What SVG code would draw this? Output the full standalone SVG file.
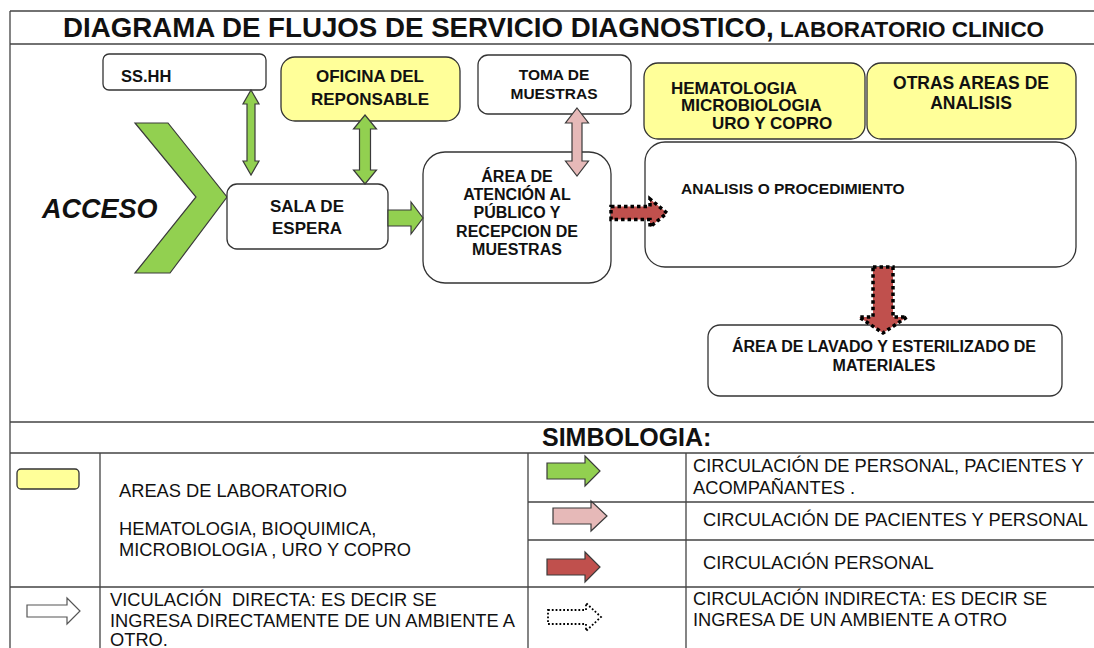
<svg xmlns="http://www.w3.org/2000/svg" width="1094" height="648" viewBox="0 0 1094 648">
<style>
.bg{fill:#fff}
.grid{stroke:#444;stroke-width:1.3;fill:none}
.box{fill:#fff;stroke:#333;stroke-width:1.3}
.ybox{fill:#FFFF99;stroke:#333;stroke-width:1.3}
.t{font-family:"Liberation Sans",Arial,sans-serif;fill:#111}
.b{font-weight:bold}
.g{fill:#92D050;stroke:#3a3a3a;stroke-width:1.2;stroke-linejoin:miter}
.p{fill:#E6B9B8;stroke:#3a3a3a;stroke-width:1.2}
.r{fill:#C0504D;stroke:#3a3a3a;stroke-width:1.2}
.rd{fill:#C0504D;stroke:#000;stroke-width:3.5;stroke-dasharray:3.5 3}
.dot{fill:#fff;stroke:#000;stroke-width:1.8;stroke-dasharray:1.8 2}
.w{fill:#fff;stroke:#555;stroke-width:1.2}
.lg{font-size:18.3px}
</style>
<rect class="bg" x="0" y="0" width="1094" height="648"/>

<g id="frame">
<path class="grid" d="M10,11 V648 M10,11 H1094 M10,44 H1094 M10,422 H1094 M10,453 H1094 M10,587 H1094 M100,453 V648 M528,453 V648 M686,453 V648 M528,502 H1094 M528,540 H1094"/>
</g>

<g id="title">
<text class="t b" x="63" y="37" font-size="27.7">DIAGRAMA DE FLUJOS DE SERVICIO DIAGNOSTICO,<tspan font-size="22.5"> LABORATORIO CLINICO</tspan></text>
</g>

<g id="acceso">
<polygon class="g" points="135,123 168,123 227,197 170,273 135,273 196,197" stroke="none"/>
<text class="t b" x="42" y="218" font-size="27" font-style="italic">ACCESO</text>
</g>

<g id="sshh">
<rect class="box" x="103" y="54" width="163" height="36" rx="6"/>
<text class="t b" x="121" y="82" font-size="16.5">SS.HH</text>
</g>

<g id="oficina">
<rect class="ybox" x="281" y="57" width="179" height="64" rx="14"/>
<text class="t b" x="370" y="82" font-size="17" text-anchor="middle">OFICINA DEL</text>
<text class="t b" x="370" y="105" font-size="17" text-anchor="middle">REPONSABLE</text>
</g>

<g id="toma">
<rect class="box" x="478" y="55" width="153" height="59" rx="10"/>
<text class="t b" x="554" y="80" font-size="15.5" text-anchor="middle">TOMA DE</text>
<text class="t b" x="554" y="99" font-size="15.5" text-anchor="middle">MUESTRAS</text>
</g>

<g id="hematologia">
<rect class="ybox" x="644" y="63" width="221" height="76" rx="14"/>
<text class="t b" x="671" y="94" font-size="17">HEMATOLOGIA</text>
<text class="t b" x="681" y="111" font-size="17">MICROBIOLOGIA</text>
<text class="t b" x="712" y="129" font-size="17">URO Y COPRO</text>
</g>

<g id="otras">
<rect class="ybox" x="867" y="63" width="209" height="76" rx="14"/>
<text class="t b" x="971" y="89" font-size="17.5" text-anchor="middle">OTRAS AREAS DE</text>
<text class="t b" x="971" y="109" font-size="17.5" text-anchor="middle">ANALISIS</text>
</g>

<g id="analisis">
<rect class="box" x="645" y="142" width="431" height="125" rx="20"/>
<text class="t b" x="681" y="194" font-size="15.5">ANALISIS<tspan style="font-weight:600"> O PROCEDIMIENTO</tspan></text>
</g>

<g id="sala">
<rect class="box" x="227" y="184" width="161" height="65" rx="10"/>
<text class="t b" x="307" y="212" font-size="17" text-anchor="middle">SALA DE</text>
<text class="t b" x="307" y="234" font-size="17" text-anchor="middle">ESPERA</text>
</g>

<g id="atencion">
<rect class="box" x="423" y="152" width="188" height="131" rx="22"/>
<text class="t b" x="517" y="182" font-size="16" text-anchor="middle">ÁREA DE</text>
<text class="t b" x="517" y="200" font-size="16" text-anchor="middle">ATENCIÓN AL</text>
<text class="t b" x="517" y="218" font-size="16" text-anchor="middle">PÚBLICO Y</text>
<text class="t b" x="517" y="237" font-size="16" text-anchor="middle">RECEPCION DE</text>
<text class="t b" x="517" y="255" font-size="16" text-anchor="middle">MUESTRAS</text>
</g>

<g id="lavado">
<rect class="box" x="708" y="325" width="354" height="71" rx="12"/>
<text class="t b" x="884" y="352" font-size="16" text-anchor="middle">ÁREA DE LAVADO Y ESTERILIZADO DE</text>
<text class="t b" x="884" y="371" font-size="16" text-anchor="middle">MATERIALES</text>
</g>

<g id="connectors">
<path class="g" d="M251,90 L259,104 L255,104 L255,161 L259,161 L251,175 L243,161 L247,161 L247,104 L243,104 Z"/>
<path class="g" d="M365,115 L376.5,129 L370.5,129 L370.5,170 L376.5,170 L365,184 L353.5,170 L359.5,170 L359.5,129 L353.5,129 Z"/>
<path class="g" d="M388,210 L411,210 L411,202 L423,218 L411,234 L411,226 L388,226 Z"/>
<path class="p" d="M577,108 L588.5,123 L582,123 L582,161 L588.5,161 L577,176 L565.5,161 L572,161 L572,123 L565.5,123 Z"/>
<path class="rd" d="M611,206.5 L650,206.5 L650,199 L667,213 L650,227 L650,219.5 L611,219.5 Z"/>
<path class="rd" d="M873,267 L893,267 L893,317 L907,317 L883,333 L859,317 L873,317 Z"/>
</g>

<g id="legend">
<text class="t b" x="542" y="446" font-size="25">SIMBOLOGIA:</text>
<rect class="ybox" x="17" y="469" width="62" height="20" rx="4"/>
<text class="t lg" x="119" y="497">AREAS DE LABORATORIO</text>
<text class="t lg" x="119" y="535">HEMATOLOGIA, BIOQUIMICA,</text>
<text class="t lg" x="119" y="556">MICROBIOLOGIA , URO Y COPRO</text>
<path class="w" d="M27,605 L67,605 L67,598 L80,611 L67,624 L67,617 L27,617 Z"/>
<text class="t lg" x="110" y="606" xml:space="preserve">VICULACIÓN  DIRECTA: ES DECIR SE</text>
<text class="t lg" x="110" y="627">INGRESA DIRECTAMENTE DE UN AMBIENTE A</text>
<text class="t lg" x="110" y="646">OTRO.</text>
<path class="g" d="M547,463 L585,463 L585,456 L600,471 L585,486 L585,479 L547,479 Z"/>
<text class="t lg" x="693" y="472">CIRCULACIÓN DE PERSONAL, PACIENTES Y</text>
<text class="t lg" x="693" y="494">ACOMPAÑANTES .</text>
<path class="p" d="M553,508 L591,508 L591,501 L607,516 L591,531 L591,524 L553,524 Z"/>
<text class="t lg" x="703" y="526">CIRCULACIÓN DE PACIENTES Y PERSONAL</text>
<path class="r" d="M547,559 L585,559 L585,552 L600,567 L585,582 L585,575 L547,575 Z"/>
<text class="t lg" x="703" y="569">CIRCULACIÓN PERSONAL</text>
<path class="dot" d="M548,610 L586,610 L586,603 L601,617 L586,631 L586,624 L548,624 Z"/>
<text class="t lg" x="693" y="605">CIRCULACIÓN INDIRECTA: ES DECIR SE</text>
<text class="t lg" x="693" y="626">INGRESA DE UN AMBIENTE A OTRO</text>
</g>
</svg>
